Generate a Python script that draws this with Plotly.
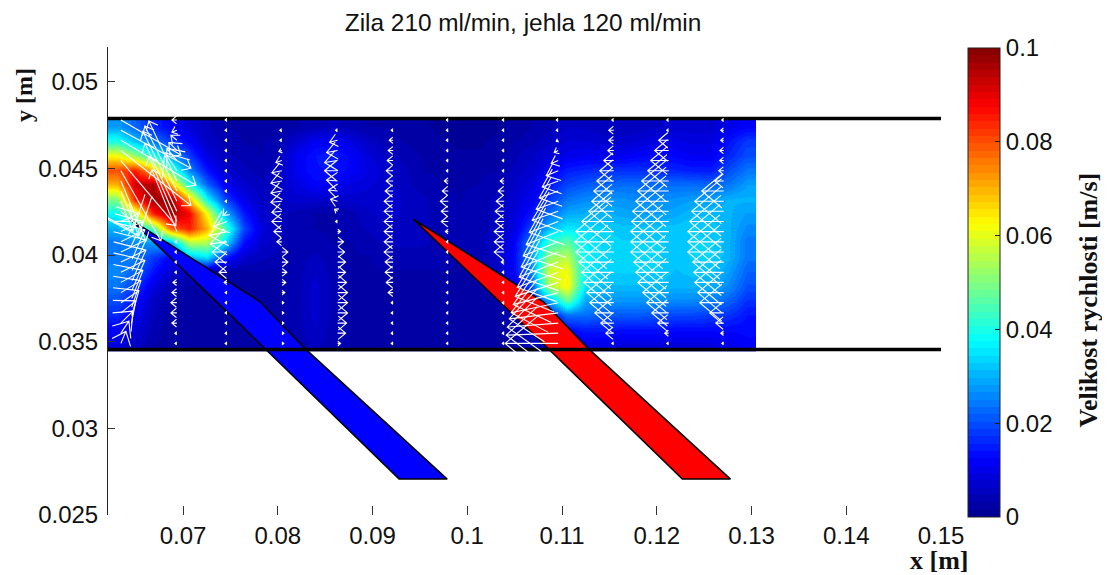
import math
import plotly.graph_objects as go

# ---------- data ----------
title_text = "Zila 210 ml/min, jehla 120 ml/min"
x_ticks = [0.07, 0.08, 0.09, 0.1, 0.11, 0.12, 0.13, 0.14, 0.15]
x_labels = ["0.07", "0.08", "0.09", "0.1", "0.11", "0.12", "0.13", "0.14", "0.15"]
y_ticks = [0.025, 0.03, 0.035, 0.04, 0.045, 0.05]
y_labels = ["0.025", "0.03", "0.035", "0.04", "0.045", "0.05"]
cb_ticks = [0, 0.02, 0.04, 0.06, 0.08, 0.1]
cb_labels = ["0", "0.02", "0.04", "0.06", "0.08", "0.1"]

wall_top = 0.04787
wall_bottom = 0.03455

blue_x = [0.0644, 0.07465, 0.07813, 0.08288, 0.09788, 0.0928, 0.07855, 0.07465, 0.0644]
blue_y = [0.04207, 0.0385, 0.0373, 0.0346, 0.02707, 0.02707, 0.0346, 0.03672, 0.04207]
red_x = [0.0943, 0.10455, 0.10803, 0.11278, 0.12778, 0.1227, 0.10845, 0.10455, 0.0943]
red_y = blue_y

# speed magnitude, mm/s; rows run from top wall to bottom wall
heat_x = [0.06303 + 0.0019 * i for i in range(36)]
heat_rows_y = [0.04745, 0.04658, 0.04577, 0.04491, 0.04410, 0.04324, 0.04243, 0.04156,
               0.04076, 0.03989, 0.03908, 0.03822, 0.03741, 0.03654, 0.03574, 0.03487]
heat_mm = [
 [28,22,16,12, 8, 5, 3, 3, 2, 2, 3, 4, 5, 4, 3, 3, 2, 2, 1, 1, 1, 1, 2, 3, 4, 6, 6, 5, 5, 5, 6, 7, 7, 7,10,12],
 [40,32,24,18,12, 6, 4, 3, 3, 4, 7,11,12, 9, 6, 4, 3, 2, 2, 1, 1, 2, 3, 4, 6, 8, 8, 7, 7, 8, 9,10, 9, 9,14,18],
 [62,52,40,28,18, 9, 5, 4, 3, 5,11,14,15,12, 8, 6, 4, 3, 2, 2, 2, 2, 4, 6, 8,10,11,11,11,12,13,12,11,11,16,20],
 [80,85,70,45,26,14, 7, 5, 4, 6,11,14,14,12, 9, 7, 5, 3, 3, 3, 3, 3, 5, 7,11,15,16,17,17,17,16,16,15,15,20,24],
 [70,92,96,70,40,22,11, 7, 5, 6, 9,12,11, 9, 8, 7, 5, 4, 3, 3, 3, 4, 6, 9,14,19,21,22,23,23,23,23,23,22,24,28],
 [50,85,97,98,70,38,19,10, 6, 6, 7, 7, 6, 7, 7, 7, 6, 5, 4, 3, 4, 5, 7,11,18,24,26,27,27,26,26,27,28,28,30,30],
 [38,55,85,97,88,62,30,15, 7, 5, 4, 3, 3, 4, 6, 7, 6, 5, 4, 4, 4, 5, 8,14,23,29,30,30,29,28,28,29,31,31,30,28],
 [30,36,45,78,85,70,45,20, 9, 5, 4, 3, 3, 4, 5, 6, 5, 5, 4, 4, 4, 5, 9,19,31,36,34,33,32,32,32,32,33,32,30,26],
 [24,26,28,30,55,55,35,14, 7, 5, 4, 4, 3, 3, 4, 5, 5, 5, 4, 4, 4, 6,11,25,43,47,36,34,33,33,33,32,33,33,30,24],
 [24,24,18,12,30,35,15, 7, 5, 4, 4, 5, 4, 3, 3, 4, 4, 4, 4, 3, 3, 6,12,27,52,56,37,34,34,33,33,32,33,33,30,24],
 [26,22,14, 7, 5, 4, 3, 3, 3, 3, 4, 6, 4, 3, 3, 3, 3, 3, 3, 3, 3, 5,12,25,58,62,37,33,33,33,33,31,32,32,28,22],
 [24,18, 9, 4, 3, 2, 2, 3, 3, 3, 4, 7, 4, 3, 3, 3, 3, 3, 3, 3, 3, 4, 9,19,54,63,35,31,31,31,31,30,30,29,26,20],
 [20,14, 6, 3, 2, 2, 2, 2, 2, 3, 4, 7, 4, 3, 3, 3, 3, 3, 2, 2, 2, 3, 7,13,29,48,29,27,27,27,27,26,26,25,22,17],
 [16,10, 5, 2, 2, 2, 2, 2, 2, 3, 4, 7, 4, 3, 3, 3, 3, 3, 2, 2, 2, 2, 5, 8,12,23,23,21,21,21,20,19,19,18,17,14],
 [12, 8, 4, 2, 2, 2, 2, 2, 2, 3, 4, 6, 4, 3, 3, 3, 3, 2, 2, 2, 2, 2, 3, 6, 9,13,15,15,14,14,14,13,13,13,13,13],
 [ 9, 6, 3, 2, 2, 2, 2, 2, 2, 3, 4, 5, 4, 3, 3, 3, 3, 2, 2, 2, 2, 2, 2, 4, 6, 8,10,10, 9, 9, 9, 9, 9, 9,10,12],
]

# velocity profiles, mm/s: one station per x position, one entry per row (top to bottom)
station_x = [0.06344, 0.06935, 0.07465, 0.08043, 0.08631, 0.09218, 0.09800, 0.10390, 0.10960, 0.11546, 0.12126, 0.12707]
station_y = [0.04779, 0.04720, 0.04662, 0.04603, 0.04545, 0.04486, 0.04427, 0.04369, 0.04310, 0.04252,
             0.04193, 0.04135, 0.04076, 0.04017, 0.03959, 0.03900, 0.03842, 0.03783, 0.03725, 0.03666,
             0.03607, 0.03549, 0.03490]
u_mm = [
 [60,70,75,70,55,40,25,18,12,12,18,22,24,25,25,24,22,20,18,15,12,8,5],
 [-5,-5,-6,-8,-10,-12,-28,-32,-34,-32,-28,-25,-2,-2,-2,-2,-4,-5,-6,-6,-5,-2,-2],
 [-2,-2,-2,-2,-2,-2,-2,-2,-2,-4,-14,-18,-17,-15,-12,-8,-3,-2,-2,-2,-2,-2,-2],
 [0,-2,-2,-3,-6,-10,-11,-11,-11,-10,-10,-8,-5,6,6,5,4,3,2,2,2,2,2],
 [0,-2,-8,-11,-13,-13,-11,-9,-7,-3,-2,3,6,7,8,8,9,10,10,10,9,8,3],
 [0,-2,-4,-5,-6,-7,-7,-8,-9,-9,-9,-9,-9,-9,-8,-8,-7,-5,-2,-2,-2,-2,-2],
 [-2,-2,-2,-2,-2,-2,-4,-6,-8,-7,-7,-3,-2,-2,-2,-2,-2,-2,-2,-2,-2,-2,-2],
 [-2,-2,-2,-2,-2,-2,-4,-6,-8,-9,-9,-10,-10,-10,-3,-2,-2,-2,-2,-2,-2,-2,-2],
 [-2,-2,-2,-4,-7,-12,-16,-19,-22,-26,-29,-32,-35,-37,-39,-41,-43,-45,-47,-49,-51,-52,-53],
 [-2,-5,-5,-6,-10,-14,-17,-20,-22,-25,-32,-38,-39,-38,-35,-32,-30,-27,-24,-19,-13,-8,-2],
 [-2,-2,-10,-14,-18,-21,-27,-31,-33,-36,-37,-38,-38,-38,-35,-33,-31,-26,-22,-17,-11,-4,-2],
 [-2,-3,-3,-4,-4,-5,-9,-22,-29,-32,-34,-36,-36,-36,-31,-30,-29,-26,-24,-14,-8,-3,-2],
]
v_mm = [
 [-35,-38,-45,-55,-65,-70,-60,-45,-30,-10,8,10,12,12,12,12,12,12,12,12,12,12,12],
 [0,-2,5,8,12,18,60,65,70,68,65,62,0,0,0,0,0,0,0,0,0,0,0],
 [0,0,0,0,0,0,0,0,0,-4,-5,-4,-2,0,0,0,0,0,0,0,0,0,0],
 [0,0,0,-1,-2,-2,-2,-2,-1,-1,0,0,0,0,0,0,0,0,0,0,0,0,0],
 [0,0,-2,-2,-2,0,1,1,2,2,0,0,0,0,0,0,0,0,0,0,0,0,0],
 [0,0,0,0,0,0,0,0,0,0,0,0,0,0,0,0,0,0,0,0,0,0,0],
 [0,0,0,0,0,0,0,0,0,0,0,0,0,0,0,0,0,0,0,0,0,0,0],
 [0,0,0,0,0,0,0,0,0,0,0,0,0,0,0,0,0,0,0,0,0,0,0],
 [0,0,-1,-2,-3,-5,-6,-7,-8,-9,-11,-13,-14,-15,-15,-15,-14,-12,-10,-6,-4,-2,0],
 [0,0,0,0,0,0,0,0,0,0,0,0,0,0,0,0,0,0,0,0,0,0,0],
 [0,0,0,0,0,0,0,0,0,0,0,0,0,0,0,0,0,0,0,0,0,0,0],
 [0,0,0,0,0,0,0,0,0,0,0,0,0,0,0,0,0,0,0,0,0,0,0],
]

# ---------- styling / geometry ----------
OFF = 8  # the page's default body margin shifts the figure by this many pixels
W, H = 1110 - OFF, 575 - OFF
AX_L, AX_R, AX_T, AX_B = 108, 940.6, 47, 515
X_RANGE = [0.06208, 0.15]
Y_RANGE = [0.025, 0.052]
PX_X = (X_RANGE[1] - X_RANGE[0]) / (AX_R - AX_L)
PX_Y = (Y_RANGE[1] - Y_RANGE[0]) / (AX_B - AX_T)
BARB = 1.2
BARB_MAX = 42
BARB_LONG = 10     # very long arrows only carry a small head
LONG_ARROW = 58
THETA = math.radians(40)

JET = [(0.0, (0, 0, 143)), (0.125, (0, 0, 255)), (0.375, (0, 255, 255)),
       (0.625, (255, 255, 0)), (0.875, (255, 0, 0)), (1.0, (128, 0, 0))]


def jet(t):
    for (a, ca), (b, cb) in zip(JET, JET[1:]):
        if t <= b:
            f = (t - a) / (b - a)
            return "rgb(%d,%d,%d)" % tuple(round(p + (q - p) * f) for p, q in zip(ca, cb))
    return "rgb(128,0,0)"


def paper_x(px):
    return (px - AX_L) / (AX_R - AX_L)


def paper_y(py):
    return (AX_B - py) / (AX_B - AX_T)


stepped = []
for i in range(64):
    c = jet((i + 0.5) / 64)
    stepped += [[i / 64, c], [(i + 1) / 64, c]]

heat_z = [[v / 1000 for v in row] for row in heat_mm]

xs, ys = [], []
for sx, us, vs in zip(station_x, u_mm, v_mm):
    for sy, u, v in zip(station_y, us, vs):
        tipx, tipy = sx + u * PX_X, sy + v * PX_Y
        pts = [(sx, sy), (tipx, tipy)]
        length = math.hypot(u, v) or 1
        barb = BARB_LONG if length > LONG_ARROW else min(BARB * length, BARB_MAX)
        k = barb / length
        for sgn in (1, -1):
            c, s = math.cos(sgn * THETA), math.sin(sgn * THETA)
            bu, bv = -u * k, -v * k
            ru, rv = bu * c - bv * s, bu * s + bv * c
            pts.append((tipx + ru * PX_X, tipy + rv * PX_Y))
            pts.append((tipx, tipy))
        for px, py in pts:
            xs.append(px)
            ys.append(py)
        xs.append(None)
        ys.append(None)

fig = go.Figure()
fig.add_trace(go.Heatmap(
    x=heat_x, y=heat_rows_y, z=heat_z, zmin=0, zmax=0.1, zsmooth="best",
    colorscale=stepped, hoverinfo="skip",
    colorbar=dict(
        thickness=32, thicknessmode="pixels", len=AX_B + 1 - AX_T, lenmode="pixels",
        x=paper_x(968), xanchor="left", xref="paper", y=paper_y(AX_B + 2), yanchor="bottom", yref="paper",
        xpad=0, ypad=0, outlinecolor="#222222", outlinewidth=1,
        tickmode="array", tickvals=cb_ticks, ticktext=cb_labels, ticks="inside", ticklen=5,
        tickcolor="#222222", tickfont=dict(family="Liberation Sans", size=24, color="#111111"),
    ),
))
for nx, ny, col in ((blue_x, blue_y, "#0000ff"), (red_x, red_y, "#ff0000")):
    fig.add_trace(go.Scatter(x=nx, y=ny, mode="lines", fill="toself", fillcolor=col,
                             line=dict(color="black", width=1.5), hoverinfo="skip"))
for wy in (wall_top, wall_bottom):
    fig.add_trace(go.Scatter(x=X_RANGE, y=[wy, wy], mode="lines",
                             line=dict(color="black", width=3.5), hoverinfo="skip"))
fig.add_trace(go.Scatter(x=xs, y=ys, mode="lines", line=dict(color="white", width=1.1),
                         hoverinfo="skip", connectgaps=False))

fig.update_layout(
    width=W, height=H,
    margin=dict(l=AX_L - OFF, r=W - (AX_R - OFF), t=AX_T - OFF, b=H - (AX_B - OFF), autoexpand=False),
    showlegend=False, paper_bgcolor="white", plot_bgcolor="white",
    title=dict(text=title_text, x=(523 - OFF) / W, y=1 - (22 - OFF) / H, xanchor="center", yanchor="middle",
               xref="container", yref="container",
               font=dict(family="Liberation Sans", size=24.4, color="#111111")),
    xaxis=dict(range=X_RANGE, showgrid=False, zeroline=False,
               showline=False, ticks="inside", ticklen=9, tickcolor="#333333", tickwidth=1,
               tickmode="array", tickvals=x_ticks, ticktext=x_labels, ticklabelstandoff=4,
               tickfont=dict(family="Liberation Sans", size=24, color="#111111")),
    yaxis=dict(range=Y_RANGE, showgrid=False, zeroline=False,
               showline=True, linecolor="#222222", linewidth=1, ticks="inside", ticklen=7,
               tickcolor="#333333", tickwidth=1,
               tickmode="array", tickvals=y_ticks, ticktext=y_labels, ticklabelstandoff=4,
               tickfont=dict(family="Liberation Sans", size=24, color="#111111")),
    annotations=[
        dict(text="<b>x [m]</b>", x=paper_x(939), y=paper_y(560), xref="paper", yref="paper", showarrow=False,
             xanchor="center", yanchor="middle",
             font=dict(family="Liberation Serif", size=26, color="#111111")),
        dict(text="<b>y [m]</b>", x=paper_x(24), y=paper_y(95), xref="paper", yref="paper", showarrow=False,
             textangle=-90, xanchor="center", yanchor="middle",
             font=dict(family="Liberation Serif", size=24, color="#111111")),
        dict(text="<b>Velikost rychlosti [m/s]</b>", x=paper_x(1088), y=paper_y(300), xref="paper", yref="paper",
             showarrow=False, textangle=-90, xanchor="center", yanchor="middle",
             font=dict(family="Liberation Serif", size=26, color="#111111")),
    ],
)
fig.write_html("out.html")
